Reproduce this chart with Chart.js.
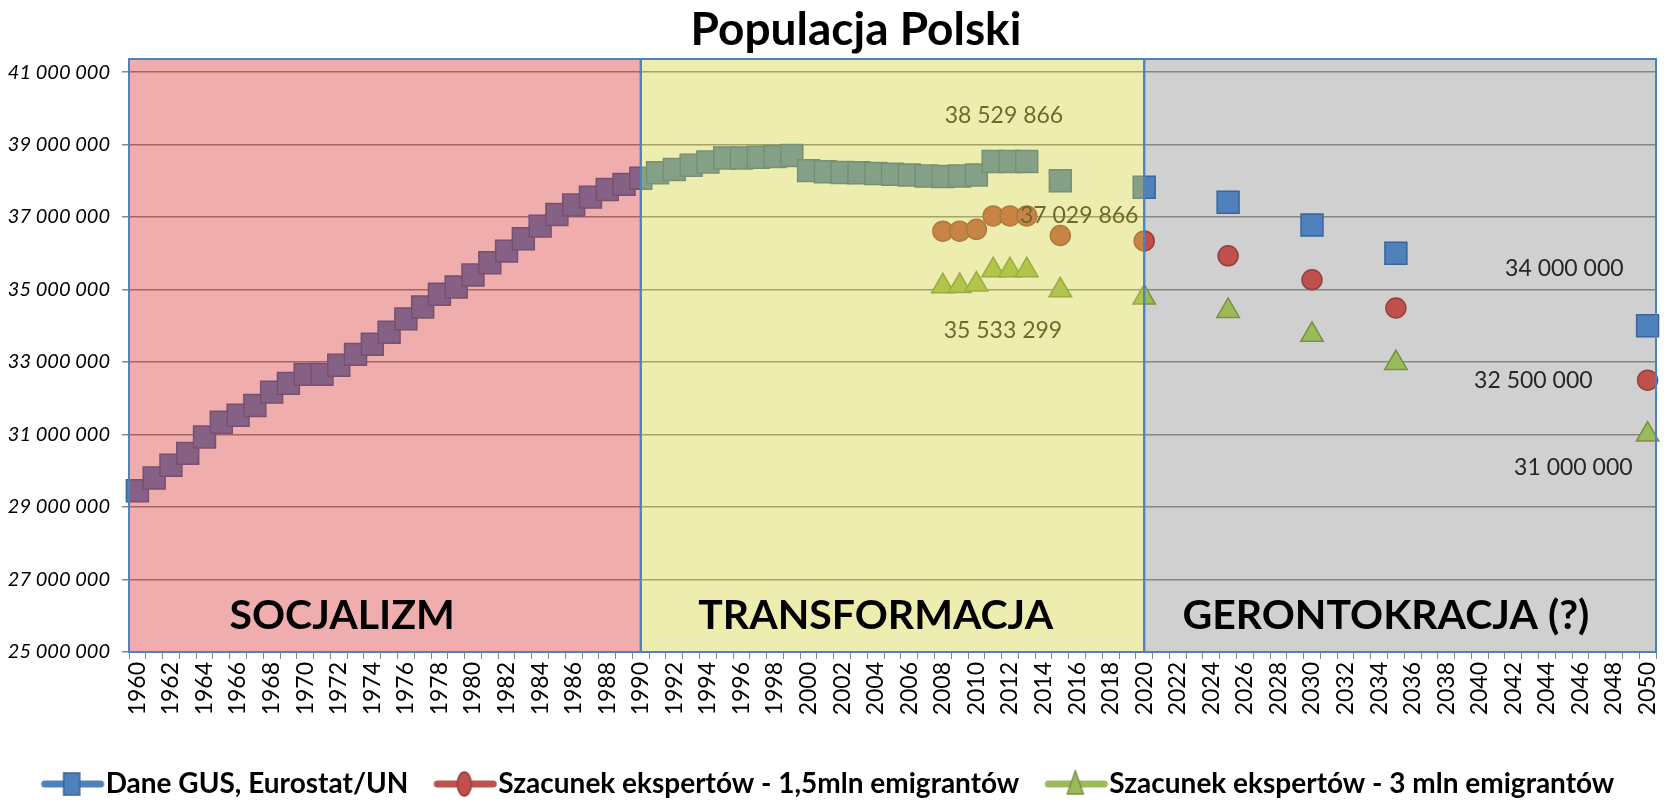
<!DOCTYPE html>
<html>
<head>
<meta charset="utf-8">
<script src="https://cdn.jsdelivr.net/npm/chart.js@4.4.1/dist/chart.umd.min.js"></script>
<style>
  html, body { margin: 0; padding: 0; background: #fff; }
</style>
</head>
<body>
<canvas id="myChart" width="1673" height="803"></canvas>
<script>
// categories (years on the x axis)
const years = [1960, 1961, 1962, 1963, 1964, 1965, 1966, 1967, 1968, 1969,
  1970, 1971, 1972, 1973, 1974, 1975, 1976, 1977, 1978, 1979,
  1980, 1981, 1982, 1983, 1984, 1985, 1986, 1987, 1988, 1989,
  1990, 1991, 1992, 1993, 1994, 1995, 1996, 1997, 1998, 1999,
  2000, 2001, 2002, 2003, 2004, 2005, 2006, 2007, 2008, 2009,
  2010, 2011, 2012, 2013, 2014, 2015, 2016, 2017, 2018, 2019,
  2020, 2021, 2022, 2023, 2024, 2025, 2026, 2027, 2028, 2029,
  2030, 2031, 2032, 2033, 2034, 2035, 2036, 2037, 2038, 2039,
  2040, 2041, 2042, 2043, 2044, 2045, 2046, 2047, 2048, 2049, 2050];

// y axis tick values
const yTicks = [25000000, 27000000, 29000000, 31000000, 33000000, 35000000, 37000000, 39000000, 41000000];

// Dane GUS, Eurostat/UN
const gusYears = [1960, 1961, 1962, 1963, 1964, 1965, 1966, 1967, 1968, 1969,
  1970, 1971, 1972, 1973, 1974, 1975, 1976, 1977, 1978, 1979,
  1980, 1981, 1982, 1983, 1984, 1985, 1986, 1987, 1988, 1989,
  1990, 1991, 1992, 1993, 1994, 1995, 1996, 1997, 1998, 1999,
  2000, 2001, 2002, 2003, 2004, 2005, 2006, 2007, 2008, 2009,
  2010, 2011, 2012, 2013, 2015, 2020, 2025, 2030, 2035, 2050];
const gusValues = [29450000, 29800000, 30150000, 30480000, 30930000, 31340000, 31530000, 31800000, 32170000, 32410000,
  32660000, 32660000, 32910000, 33210000, 33490000, 33820000, 34190000, 34520000, 34870000, 35070000,
  35400000, 35740000, 36060000, 36400000, 36750000, 37070000, 37330000, 37550000, 37760000, 37900000,
  38070000, 38220000, 38310000, 38430000, 38520000, 38630000, 38630000, 38650000, 38670000, 38700000,
  38280000, 38250000, 38230000, 38220000, 38200000, 38180000, 38160000, 38130000, 38120000, 38130000,
  38160000, 38529866, 38529866, 38529866, 38000000, 37820000, 37410000, 36780000, 36000000, 34000000];

// Szacunek ekspertów - 1,5mln emigrantów
const exp15Years = [2008, 2009, 2010, 2011, 2012, 2013, 2015, 2020, 2025, 2030, 2035, 2050];
const exp15Values = [36610000, 36610000, 36660000, 37029866, 37029866, 37029866, 36490000, 36340000, 35930000, 35270000, 34490000, 32500000];

// Szacunek ekspertów - 3 mln emigrantów
const exp3Years = [2008, 2009, 2010, 2011, 2012, 2013, 2015, 2020, 2025, 2030, 2035, 2050];
const exp3Values = [35090000, 35100000, 35140000, 35533299, 35533299, 35533299, 34980000, 34780000, 34410000, 33750000, 32970000, 31000000];

const seriesNames = ['Dane GUS, Eurostat/UN', 'Szacunek ekspertów - 1,5mln emigrantów', 'Szacunek ekspertów - 3 mln emigrantów'];

// epochs: [from year, to year, name]
const epochs = [[1960, 1990, 'SOCJALIZM'], [1990, 2020, 'TRANSFORMACJA'], [2020, 2050, 'GERONTOKRACJA (?)']];

const chartTitle = 'Populacja Polski';

function fmt(v) {
  return String(Math.round(v)).replace(/\B(?=(\d{3})+(?!\d))/g, ' ');
}

function points(xs, ys) {
  return xs.map((x, i) => ({ x: String(x), y: ys[i] }));
}

// legend icon: thick line with the marker in the middle
function makeIcon(color, border, style) {
  const c = document.createElement('canvas');
  c.width = 128; c.height = 30;
  const g = c.getContext('2d');
  g.strokeStyle = color; g.lineWidth = 7; g.lineCap = 'round';
  g.beginPath(); g.moveTo(41, 15); g.lineTo(97, 15); g.stroke();
  const cx = 68, cy = 15;
  g.fillStyle = color; g.strokeStyle = border; g.lineWidth = 1.5;
  g.beginPath();
  if (style === 'rect') g.rect(cx - 8, cy - 11, 16, 22);
  else if (style === 'circle') g.ellipse(cx, cy, 7, 12, 0, 0, Math.PI * 2);
  else { g.moveTo(cx, cy - 13); g.lineTo(cx + 8, cy + 10); g.lineTo(cx - 8, cy + 10); g.closePath(); }
  g.fill(); g.stroke();
  return c;
}

const colors = ['#4F81BD', '#C0504D', '#9BBB59'];
const borders = ['#3A6497', '#94403D', '#779146'];
const icons = [makeIcon(colors[0], borders[0], 'rect'), makeIcon(colors[1], borders[1], 'circle'), makeIcon(colors[2], borders[2], 'triangle')];

// which values get a label, and where
const valueLabels = [
  { ds: 0, year: '2012', align: 'center', dx: -6, dy: -46 },
  { ds: 1, year: '2012', align: 'left', dx: 10, dy: 0 },
  { ds: 2, year: '2012', align: 'center', dx: -7, dy: 60 },
  { ds: 0, year: '2050', align: 'right', dx: -24, dy: -57 },
  { ds: 1, year: '2050', align: 'right', dx: -55, dy: 0 },
  { ds: 2, year: '2050', align: 'right', dx: -15, dy: 33 }
];

const bandPlugin = {
  id: 'bands',
  beforeDraw(chart) {
    const { ctx, chartArea } = chart;
    const x = chart.scales.x;
    const x0 = x.getPixelForValue(years.indexOf(epochs[2][0]));
    ctx.save();
    ctx.fillStyle = '#D0D0D0';
    ctx.fillRect(x0, chartArea.top, chartArea.right - x0, chartArea.bottom - chartArea.top);
    ctx.restore();
  },
  afterDatasetsDraw(chart) {
    const { ctx, chartArea } = chart;
    const xs = chart.scales.x, ys = chart.scales.y;
    ctx.save();

    // value labels (under the tint)
    ctx.font = '23px Lato';
    ctx.fillStyle = '#262626';
    ctx.textBaseline = 'middle';
    valueLabels.forEach(l => {
      const d = chart.data.datasets[l.ds].data.find(p => p.x === l.year);
      const px = xs.getPixelForValue(years.indexOf(Number(l.year)));
      const py = ys.getPixelForValue(d.y);
      ctx.textAlign = l.align;
      ctx.fillText(fmt(d.y), px + l.dx, py + l.dy);
    });

    // bands
    const tints = ['rgba(215, 50, 50, 0.4)', 'rgba(212, 210, 57, 0.4)', null];
    const edges = epochs.map((e, i) => {
      const a = i === 0 ? chartArea.left : xs.getPixelForValue(years.indexOf(e[0]));
      const b = i === epochs.length - 1 ? chartArea.right : xs.getPixelForValue(years.indexOf(e[1]));
      return [a, b];
    });
    edges.forEach((e, i) => {
      if (tints[i]) {
        ctx.fillStyle = tints[i];
        ctx.fillRect(e[0], chartArea.top, e[1] - e[0], chartArea.bottom - chartArea.top);
      }
    });
    ctx.strokeStyle = '#4F81BD';
    ctx.lineWidth = 2;
    edges.forEach(e => {
      ctx.strokeRect(e[0], chartArea.top, e[1] - e[0], chartArea.bottom - chartArea.top);
    });

    // epoch names
    const nameAt = [12.2, 44, 74.4];
    ctx.font = 'bold 41px Lato';
    ctx.fillStyle = '#000';
    ctx.textAlign = 'center';
    epochs.forEach((e, i) => {
      ctx.fillText(e[2], xs.getPixelForValue(nameAt[i]), ys.getPixelForValue(26000000));
    });

    // title
    ctx.font = 'bold 46px Lato';
    ctx.fillText(chartTitle, 856, 30);
    ctx.restore();
  }
};

Chart.defaults.font.family = 'Lato';

const chart = new Chart('myChart', {
  type: 'line',
  data: {
    labels: years.map(String),
    datasets: [
      {
        label: seriesNames[0], data: points(gusYears, gusValues), showLine: false,
        pointStyle: 'rect', pointRadius: 15.5, pointHoverRadius: 15.5,
        pointBackgroundColor: colors[0], pointBorderColor: borders[0], pointBorderWidth: 1.5
      },
      {
        label: seriesNames[1], data: points(exp15Years, exp15Values), showLine: false,
        pointStyle: 'circle', pointRadius: 10, pointHoverRadius: 10,
        pointBackgroundColor: colors[1], pointBorderColor: borders[1], pointBorderWidth: 1.5
      },
      {
        label: seriesNames[2], data: points(exp3Years, exp3Values), showLine: false,
        pointStyle: 'triangle', pointRadius: 13, pointHoverRadius: 13,
        pointBackgroundColor: colors[2], pointBorderColor: borders[2], pointBorderWidth: 1.5
      }
    ]
  },
  options: {
    responsive: false,
    animation: false,
    layout: { padding: { top: 59, right: 15, left: 0, bottom: -5 } },
    plugins: {
      title: { display: false },
      tooltip: { enabled: false },
      legend: {
        position: 'bottom',
        labels: {
          usePointStyle: true,
          pointStyleWidth: 48,
          padding: 28,
          color: '#000',
          font: { size: 28, weight: 'bold' },
          generateLabels(chart) {
            return chart.data.datasets.map((ds, i) => ({
              text: ds.label, pointStyle: icons[i], datasetIndex: i,
              fillStyle: colors[i], strokeStyle: colors[i], lineWidth: 0, hidden: false, fontColor: '#000'
            }));
          }
        }
      }
    },
    scales: {
      x: {
        offset: true,
        afterFit(scale) { scale.height = 90; scale.paddingLeft = 0; scale.paddingRight = 0; },
        grid: { offset: true, drawOnChartArea: false, tickLength: 7, color: '#868686' },
        border: { display: false },
        ticks: {
          autoSkip: false, minRotation: 90, maxRotation: 90, padding: 3,
          color: '#000', font: { size: 23 },
          callback(value, index) { return index % 2 === 0 ? this.getLabelForValue(value) : ''; }
        }
      },
      y: {
        min: 25000000,
        max: 41360000,
        afterFit(scale) { scale.width = 129; },
        afterBuildTicks(scale) { scale.ticks = yTicks.map(v => ({ value: v })); },
        grid: { color: '#868686', lineWidth: 1.5, tickLength: 7 },
        border: { display: false },
        ticks: {
          padding: 12, color: '#000',
          font: { size: 20, style: 'italic' },
          callback(v) { return fmt(v); }
        }
      }
    }
  },
  plugins: [bandPlugin]
});
</script>
</body>
</html>
